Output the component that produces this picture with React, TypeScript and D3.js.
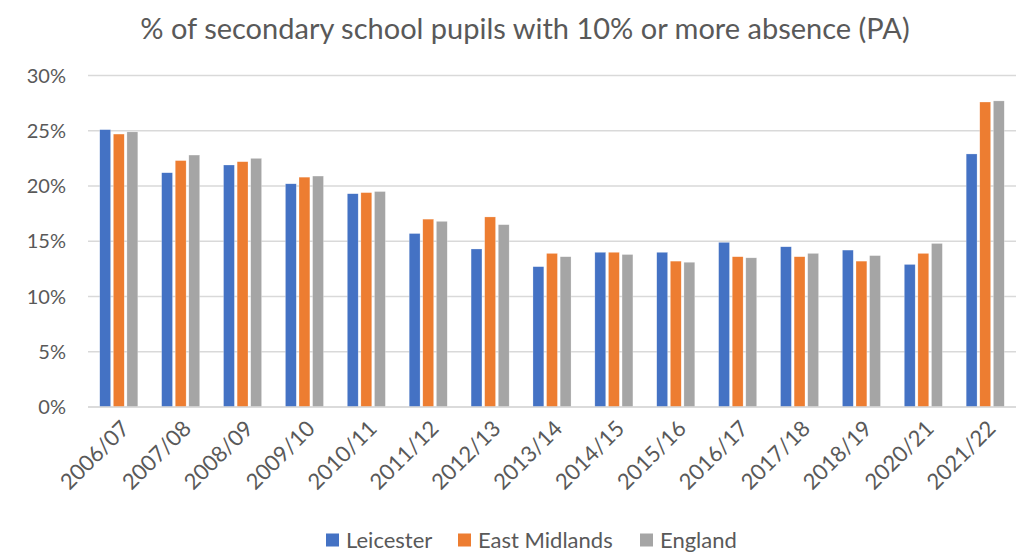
import React from "react";
import * as d3 from "d3";

const categories = ["2006/07","2007/08","2008/09","2009/10","2010/11","2011/12","2012/13","2013/14","2014/15","2015/16","2016/17","2017/18","2018/19","2020/21","2021/22"];
const leicester = [25.1,21.2,21.9,20.2,19.3,15.7,14.3,12.7,14.0,14.0,14.9,14.5,14.2,12.9,22.9];
const eastMidlands = [24.7,22.3,22.2,20.8,19.4,17.0,17.2,13.9,14.0,13.2,13.6,13.6,13.2,13.9,27.6];
const england = [24.9,22.8,22.5,20.9,19.5,16.8,16.5,13.6,13.8,13.1,13.5,13.9,13.7,14.8,27.7];
const seriesNames = ["Leicester","East Midlands","England"];
const seriesColors = ["#4472C4","#ED7D31","#A5A5A5"];
const yTicks = [0,5,10,15,20,25,30];
const title = "% of secondary school pupils with 10% or more absence (PA)";

export default function App() {
  const W = 1023, H = 552;
  const left = 88, right = 1016, top = 75.5, bottom = 407;
  const font = "Lato, 'Open Sans', sans-serif";
  const txt = "#595959";
  const x = d3.scaleBand().domain(categories).range([left, right]).paddingInner(0.385).paddingOuter(0.19);
  const xs = d3.scaleBand().domain(seriesNames).range([0, x.bandwidth()]).paddingInner(0.2);
  const y = d3.scaleLinear().domain([0, 30]).range([bottom, top]);
  const data = [leicester, eastMidlands, england];
  const legendX = [326, 458, 640];
  return (
    <svg width={W} height={H} style={{ position: "absolute", left: 0, top: 0, background: "#fff" }}>
      <text x={525} y={39} textAnchor="middle" fontFamily={font} fontSize={29} fill={txt}>{title}</text>
      {yTicks.map(t => (
        <g key={t}>
          <line x1={left} x2={right} y1={y(t)} y2={y(t)} stroke="#D9D9D9" strokeWidth={1.5} />
          <text x={66} y={y(t)} dy="0.35em" textAnchor="end" fontFamily={font} fontSize={20} fill={txt}>{t}%</text>
        </g>
      ))}
      {data.map((vals, si) => vals.map((v, i) => (
        <rect key={si + "-" + i}
          x={(x(categories[i]) as number) + (xs(seriesNames[si]) as number)}
          y={y(v)} width={xs.bandwidth()} height={y(0) - y(v)}
          fill={seriesColors[si]} stroke="#fff" strokeOpacity={0.5} strokeWidth={0.5} />
      )))}
      <line x1={left} x2={right} y1={bottom} y2={bottom} stroke="#D9D9D9" strokeWidth={1.5} />
      {categories.map(c => {
        const cx = (x(c) as number) + x.bandwidth() / 2 + 1;
        const cy = 419;
        return (
          <text key={c} x={cx} y={cy} transform={`rotate(-45 ${cx} ${cy})`} textAnchor="end" dy="0.7em"
            fontFamily={font} fontSize={22} fill={txt}>{c}</text>
        );
      })}
      {seriesNames.map((s, i) => (
        <g key={s}>
          <rect x={legendX[i]} y={533.5} width={13} height={13} fill={seriesColors[i]} />
          <text x={legendX[i] + 20} y={548} fontFamily={font} fontSize={22} fill={txt}>{s}</text>
        </g>
      ))}
    </svg>
  );
}
